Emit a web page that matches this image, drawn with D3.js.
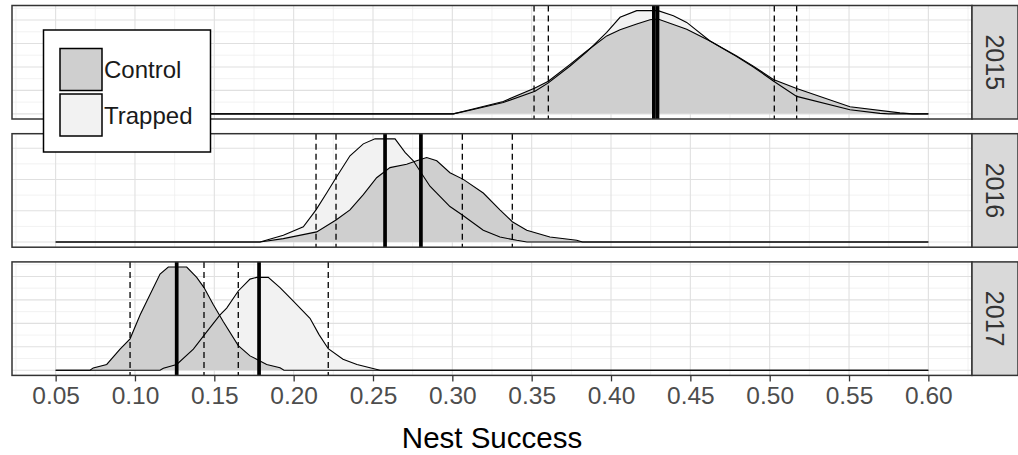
<!DOCTYPE html>
<html>
<head>
<meta charset="utf-8">
<script src="https://cdn.jsdelivr.net/npm/d3@7"></script>
<style>
body{margin:0;background:#fff}
svg{display:block}
text{font-family:"Liberation Sans",Arial,sans-serif}
</style>
</head>
<body>
<svg width="1018" height="455"></svg>
<script>
// facet labels and x ticks
var years = ["2015","2016","2017"]
var xTicks = [0.05,0.10,0.15,0.20,0.25,0.30,0.35,0.40,0.45,0.50,0.55,0.60]
var xExtent = [0.05,0.60]

// density curves: [nest success, density]
var ctrl2015 = [[0.3006,0],[0.3111,0.43],[0.3321,1.32],[0.3521,2.76],[0.3605,3.47],[0.3742,5.27],[0.3847,6.70],[0.3973,8.31],[0.4057,8.96],[0.4162,9.57],[0.4246,10.03],[0.4296,10.11],[0.4477,9.03],[0.4624,7.77],[0.4792,6.16],[0.4897,5.09],[0.5023,3.66],[0.5170,2.69],[0.5506,0.75],[0.5821,0.1],[0.590,0]]
var trap2015 = [[0.3006,0],[0.3111,0.38],[0.3321,1.2],[0.3521,2.4],[0.3605,3.3],[0.3742,5.1],[0.3847,6.6],[0.3973,8.68],[0.4057,10.29],[0.4162,11.0],[0.4296,11.0],[0.4393,10.46],[0.4477,9.75],[0.4624,7.77],[0.4792,6.1],[0.4897,5.0],[0.5023,3.5],[0.5170,1.86],[0.5506,0.43],[0.5695,0.05],[0.575,0]]
var ctrl2016 = [[0.1788,0],[0.1935,0.54],[0.2145,1.62],[0.2267,3.52],[0.2355,5.15],[0.2439,7.58],[0.2523,10.28],[0.2607,11.9],[0.2712,12.45],[0.2775,12.99],[0.2838,13.52],[0.2902,12.99],[0.2985,11.09],[0.3069,10.02],[0.3195,7.84],[0.3300,5.15],[0.3378,3.25],[0.3469,1.9],[0.3615,0.81],[0.3784,0.28],[0.382,0]]
var trap2016 = [[0.1788,0],[0.1935,1.09],[0.2061,2.44],[0.2141,5.15],[0.2208,7.84],[0.2267,10.28],[0.2355,13.8],[0.2439,15.7],[0.2513,16.5],[0.2639,16.5],[0.2702,14.33],[0.2754,12.99],[0.2859,8.93],[0.2985,5.68],[0.3063,4.33],[0.3195,1.9],[0.3300,0.81],[0.3406,0.28],[0.347,0]]
var ctrl2017 = [[0.0717,0],[0.0737,0.5],[0.0822,1.24],[0.0906,4.52],[0.0969,6.7],[0.1032,11.79],[0.1095,16.16],[0.1158,20.52],[0.1210,22.0],[0.1326,22.0],[0.1389,19.8],[0.1435,17.62],[0.1494,13.97],[0.1557,10.35],[0.1651,5.24],[0.1725,3.06],[0.1830,1.24],[0.1914,0.52],[0.1939,0]]
var trap2017 = [[0.1158,0],[0.1179,0.44],[0.1263,1.24],[0.1368,4.52],[0.1452,8.17],[0.1536,11.79],[0.1578,13.25],[0.1651,16.9],[0.1725,19.43],[0.1767,19.8],[0.1840,19.8],[0.1914,17.62],[0.1998,14.72],[0.2103,11.07],[0.2160,7.6],[0.2218,4.59],[0.2311,2.34],[0.2399,1.24],[0.2481,0.52],[0.2544,0]]

// posterior means (solid) and 95% limits (dashed)
var meanCtrl = [0.4270,0.2802,0.1263]
var meanTrap = [0.4293,0.2576,0.1782]
var ciCtrl = [[0.3515,0.5170],[0.2267,0.3378],[0.0969,0.1651]]
var ciTrap = [[0.3605,0.5029],[0.2141,0.3063],[0.1435,0.2218]]

// y grid per panel (major then minor)
var yMajor = [[0,2.5,5,7.5,10],[0,5,10,15],[0,5,10,15,20]]
var yMinor = [[1.25,3.75,6.25,8.75,11.25],[2.5,7.5,12.5,17.5],[2.5,7.5,12.5,17.5,22.5]]

var ctrlSeries = [ctrl2015,ctrl2016,ctrl2017]
var trapSeries = [trap2015,trap2016,trap2017]

var svg = d3.select("svg")
var left = 12, right = 972, stripW = 46
var panelTop = 5.5, panelH = 113.5, gap = 14.7

var x = d3.scaleLinear()
  .domain([0.0225,0.6275])
  .range([left,right])

var xMinor = xTicks.map(function(d){return d-0.025}).concat([0.625])

var full = function(pts)
{
  return [[xExtent[0],0]].concat(pts).concat([[xExtent[1],0]])
}

years.forEach(function(yr,i)
{
  var top = panelTop + i*(panelH+gap)
  var c = ctrlSeries[i], t = trapSeries[i]
  var maxD = d3.max(c.concat(t), function(d){return d[1]})
  var y = d3.scaleLinear()
    .domain([-0.05*maxD, 1.05*maxD])
    .range([top+panelH, top])

  var g = svg.append("g")

  g.append("rect")
    .attr("x",left).attr("y",top)
    .attr("width",right-left).attr("height",panelH)
    .attr("fill","white")

  // grid
  g.selectAll(".ymin").data(yMinor[i].filter(function(v){return v<1.05*maxD})).join("line")
    .attr("x1",left).attr("x2",right)
    .attr("y1",function(d){return y(d)}).attr("y2",function(d){return y(d)})
    .attr("stroke","#ececec").attr("stroke-width",0.7)
  g.selectAll(".xmin").data(xMinor).join("line")
    .attr("x1",function(d){return x(d)}).attr("x2",function(d){return x(d)})
    .attr("y1",top).attr("y2",top+panelH)
    .attr("stroke","#ececec").attr("stroke-width",0.7)
  g.selectAll(".ymaj").data(yMajor[i]).join("line")
    .attr("x1",left).attr("x2",right)
    .attr("y1",function(d){return y(d)}).attr("y2",function(d){return y(d)})
    .attr("stroke","#e0e0e0").attr("stroke-width",1.1)
  g.selectAll(".xmaj").data(xTicks).join("line")
    .attr("x1",function(d){return x(d)}).attr("x2",function(d){return x(d)})
    .attr("y1",top).attr("y2",top+panelH)
    .attr("stroke","#e0e0e0").attr("stroke-width",1.1)

  var area = d3.area()
    .x(function(d){return x(d[0])})
    .y0(y(0))
    .y1(function(d){return y(d[1])})
  var line = d3.line()
    .x(function(d){return x(d[0])})
    .y(function(d){return y(d[1])})

  g.append("path").attr("d",area(t)).attr("fill","#f2f2f2")
  g.append("path").attr("d",area(c)).attr("fill","#cfcfcf")
  g.append("path").attr("d",line(full(t))).attr("fill","none").attr("stroke","#000").attr("stroke-width",1.1)
  g.append("path").attr("d",line(full(c))).attr("fill","none").attr("stroke","#000").attr("stroke-width",1.1)

  // quantile and mean lines
  var dashes = ciCtrl[i].concat(ciTrap[i])
  g.selectAll(".ci").data(dashes).join("line")
    .attr("x1",function(d){return x(d)}).attr("x2",function(d){return x(d)})
    .attr("y1",top).attr("y2",top+panelH)
    .attr("stroke","#000").attr("stroke-width",1.3)
    .attr("stroke-dasharray","6,4")
  g.selectAll(".mean").data([meanCtrl[i],meanTrap[i]]).join("line")
    .attr("x1",function(d){return x(d)}).attr("x2",function(d){return x(d)})
    .attr("y1",top).attr("y2",top+panelH)
    .attr("stroke","#000").attr("stroke-width",3.7)

  g.append("rect")
    .attr("x",left).attr("y",top)
    .attr("width",right-left).attr("height",panelH)
    .attr("fill","none").attr("stroke","#333").attr("stroke-width",1.5)

  // strip
  g.append("rect")
    .attr("x",right).attr("y",top)
    .attr("width",stripW).attr("height",panelH)
    .attr("fill","#d9d9d9").attr("stroke","#333").attr("stroke-width",1.5)
  g.append("text")
    .attr("transform","translate(" + (right+stripW/2) + "," + (top+panelH/2) + ") rotate(90)")
    .attr("text-anchor","middle").attr("dy","0.35em")
    .attr("font-size",25).attr("fill","#333")
    .text(yr)
})

// x axis under last panel
var axisY = panelTop + 2*(panelH+gap) + panelH
var axis = svg.append("g")
  .attr("transform","translate(0," + axisY + ")")
  .call(d3.axisBottom(x).tickValues(xTicks).tickFormat(d3.format(".2f")).tickSize(6).tickPadding(5))
axis.select(".domain").remove()
axis.selectAll(".tick line").attr("stroke","#333").attr("stroke-width",1.3)
axis.selectAll(".tick text")
  .attr("font-size",24.5).attr("fill","#4d4d4d")
  .attr("font-family","Liberation Sans, Arial, sans-serif")

svg.append("text")
  .attr("x",(left+right)/2).attr("y",448)
  .attr("text-anchor","middle")
  .attr("font-size",29.5).attr("fill","#000")
  .text("Nest Success")

// legend
var legendItems = ["Control","Trapped"]
var legendFill = ["#cfcfcf","#f2f2f2"]
var lg = svg.append("g")
lg.append("rect")
  .attr("x",43.5).attr("y",30).attr("width",167).attr("height",122)
  .attr("fill","white").attr("stroke","#000").attr("stroke-width",1.5)
legendItems.forEach(function(name,i)
{
  lg.append("rect")
    .attr("x",60).attr("y",48.5+i*45.5).attr("width",42).attr("height",42)
    .attr("fill",legendFill[i]).attr("stroke","#000").attr("stroke-width",1.5)
  lg.append("text")
    .attr("x",104).attr("y",78+i*45.5)
    .attr("font-size",24).attr("fill","#1a1a1a")
    .text(name)
})
</script>
</body>
</html>
